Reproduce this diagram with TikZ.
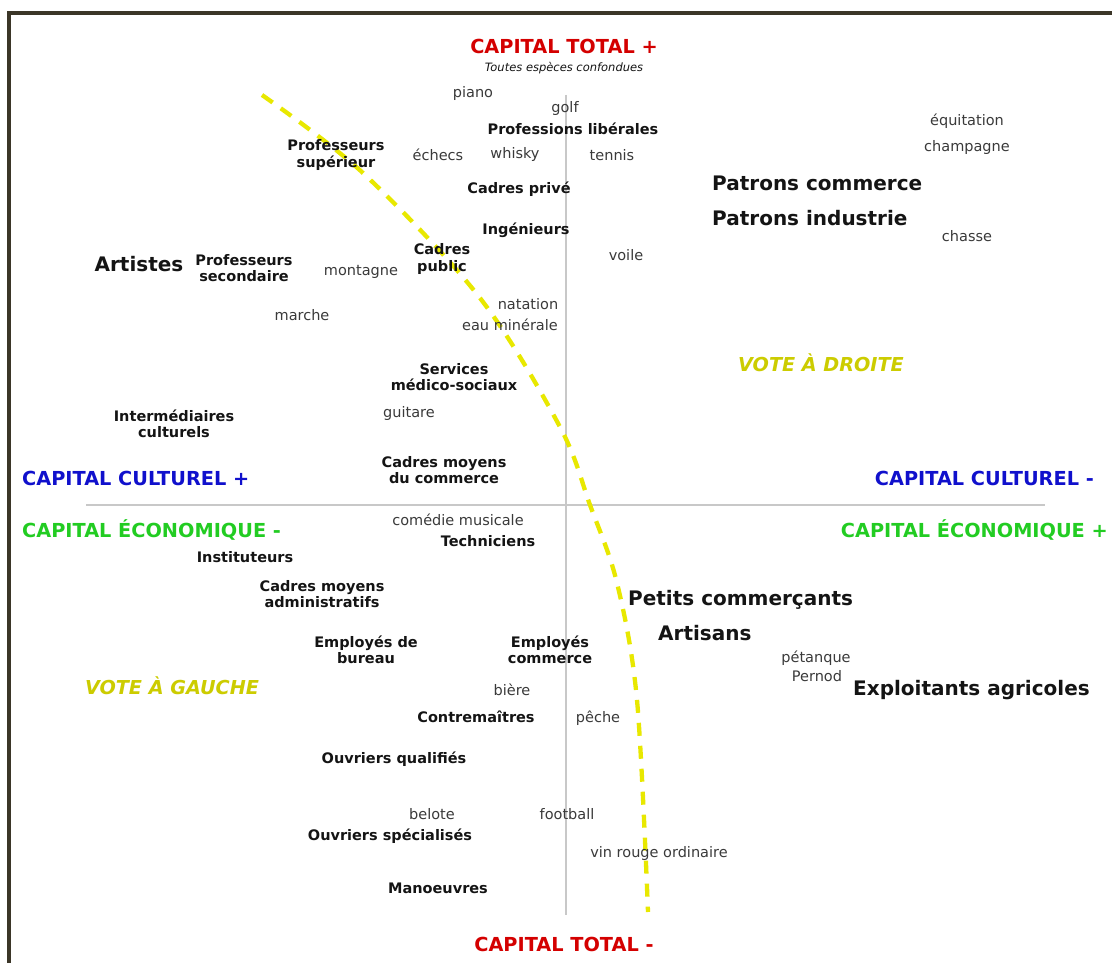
\documentclass[tikz,border=0pt]{standalone}
\usepackage{fontspec}
\setmainfont{DejaVu Sans}
\definecolor{framecol}{HTML}{3B3628}
\definecolor{axisgray}{HTML}{C8C8C8}
\definecolor{labgray}{HTML}{3A3A3A}
\definecolor{catblack}{HTML}{141414}
\definecolor{totred}{HTML}{D40000}
\definecolor{culblue}{HTML}{1010CC}
\definecolor{ecogreen}{HTML}{22CC22}
\definecolor{voteyellow}{HTML}{CCCC00}
\definecolor{lineyellow}{HTML}{E8E800}
\tikzset{
  lab/.style={font=\fontsize{14.5}{16}\selectfont, text=labgray, inner sep=0pt},
  cat/.style={font=\bfseries\fontsize{14.5}{16.5}\selectfont, text=catblack, align=center, inner sep=0pt},
  big/.style={font=\bfseries\fontsize{20}{22}\selectfont, text=catblack, inner sep=0pt},
  axt/.style={font=\bfseries\fontsize{19.3}{22}\selectfont, inner sep=0pt},
  vote/.style={font=\bfseries\itshape\fontsize{19.2}{22}\selectfont, text=voteyellow, inner sep=0pt},
  axisline/.style={draw=axisgray, line width=2.5pt},
  dashcurve/.style={draw=lineyellow, line width=4.3pt, dash pattern=on 13pt off 10pt},
}
\begin{document}
\begin{tikzpicture}[x=1pt,y=-1pt]
\useasboundingbox[fill=white] (0,0) rectangle (1112,963);
% frame
\draw[framecol, line width=3.5pt] (9,963) -- (9,13) -- (1112,13);
% axes
\coordinate (vt) at (566,95);
\coordinate (vb) at (566,915);
\coordinate (hl) at (86,505);
\coordinate (hr) at (1045,505);
\draw[axisline] (vt) -- (vb);
\draw[axisline] (hl) -- (hr);
% dashed curve
\draw[dashcurve] plot[smooth, tension=0.55] coordinates {(262,95) (363,173) (480,298) (560,427) (590,505) (617,583) (637,700) (648,912)};

% axis titles
\node[axt, text=totred] (ctp) at (564,46) {CAPITAL TOTAL +};
\node[font=\itshape\fontsize{11.5}{13}\selectfont, text=catblack, inner sep=0pt] (tec) at (564,68) {Toutes espèces confondues};
\node[axt, text=totred] (ctm) at (564,944) {CAPITAL TOTAL -};
\node[axt, text=culblue, anchor=west] (ccp) at (22,478) {CAPITAL CULTUREL +};
\node[axt, text=culblue, anchor=east] (ccm) at (1094,478) {CAPITAL CULTUREL -};
\node[axt, text=ecogreen, anchor=west] (cem) at (22,530) {CAPITAL ÉCONOMIQUE -};
\node[axt, text=ecogreen, anchor=east] (cep) at (1108,530) {CAPITAL ÉCONOMIQUE +};
\node[vote] (vd) at (821,363) {VOTE À DROITE};
\node[vote] (vg) at (172,686) {VOTE À GAUCHE};

% upper half
\node[lab] (piano) at (473,94) {piano};
\node[lab] (golf) at (565,109) {golf};
\node[cat] (plib) at (573,129) {Professions libérales};
\node[lab] (echecs) at (438,155) {échecs};
\node[lab] (whisky) at (515,155) {whisky};
\node[lab] (tennis) at (612,155) {tennis};
\node[cat] (psup) at (336,155) {Professeurs\\supérieur};
\node[cat] (cprive) at (519,189) {Cadres privé};
\node[cat] (ing) at (526,230) {Ingénieurs};
\node[cat] (cpub) at (442,259) {Cadres\\public};
\node[big] (art) at (139,264) {Artistes};
\node[cat] (psec) at (244,268) {Professeurs\\secondaire};
\node[lab] (mont) at (361,272) {montagne};
\node[lab] (voile) at (626,255) {voile};
\node[lab] (marche) at (302,315) {marche};
\node[lab] (nat) at (528,304) {natation};
\node[lab] (eau) at (510,325) {eau minérale};
\node[cat] (serv) at (454,377) {Services\\médico-sociaux};
\node[lab] (guit) at (409,413) {guitare};
\node[cat] (inter) at (174,424) {Intermédiaires\\culturels};
\node[cat] (cmc) at (444,470) {Cadres moyens\\du commerce};
\node[lab] (equi) at (967,121) {équitation};
\node[lab] (champ) at (967,148) {champagne};
\node[big, anchor=west] (pcom) at (712,183) {Patrons commerce};
\node[big, anchor=west] (pind) at (712,218) {Patrons industrie};
\node[lab] (chasse) at (967,236) {chasse};

% lower half
\node[lab] (comed) at (458,520) {comédie musicale};
\node[cat] (tech) at (488,541) {Techniciens};
\node[cat] (inst) at (245,557) {Instituteurs};
\node[cat] (cma) at (322,594) {Cadres moyens\\administratifs};
\node[cat] (ebur) at (366,650) {Employés de\\bureau};
\node[cat] (ecom) at (550,650) {Employés\\commerce};
\node[big, anchor=west] (petc) at (628,600) {Petits commerçants};
\node[big, anchor=west] (artis) at (658,633) {Artisans};
\node[lab] (petan) at (816,658) {pétanque};
\node[lab] (pern) at (817,676) {Pernod};
\node[big, anchor=west] (expl) at (853,690) {Exploitants agricoles};
\node[lab] (biere) at (512,690) {bière};
\node[cat] (contr) at (476,717) {Contremaîtres};
\node[lab] (peche) at (598,718) {pêche};
\node[cat] (oq) at (394,759) {Ouvriers qualifiés};
\node[lab] (belote) at (432,814) {belote};
\node[lab] (foot) at (567,814) {football};
\node[cat] (os) at (390,836) {Ouvriers spécialisés};
\node[lab] (vin) at (659,853) {vin rouge ordinaire};
\node[cat] (man) at (438,888) {Manoeuvres};
\end{tikzpicture}
\end{document}
